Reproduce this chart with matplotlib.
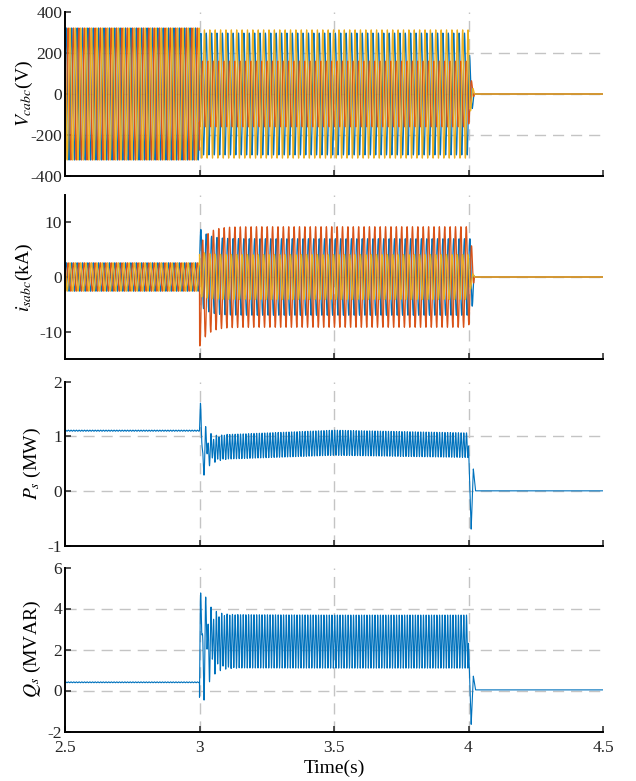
import numpy as np
import matplotlib
matplotlib.use('Agg')
from matplotlib import pyplot as plt

# --- config ---

T_START, T_END, DT = 2.5, 4.5, 1e-4
F_GRID = 50.0          # fundamental (Hz)
F_RIPPLE = 100.0       # double-frequency power ripple (Hz)
T_FAULT = 3.0
T_TRIP = 4.0

COLORS = ['#0072BD', '#D95319', '#EDB120']
PHASES = [0.0, -2 * np.pi / 3, 2 * np.pi / 3]

# converter voltage per phase (V)
V_PRE = [322, 322, 322]
V_POST = [297, 160, 313]
V_TRIP_T = [0.0, 0.006, 0.022]
V_TRIP_ENV = [[1.0, 0.5, 0.0], [1.0, 0.6, 0.0], [1.0, 0.3, 0.0]]

# stator current per phase (kA)
I_PRE = [2.6, 2.6, 2.6]
I_POST = [7.0, 9.2, 4.1]
I_DC_OFFSET = [2.0, -3.6, 0.6]
I_DC_TAU = 0.03
I_TRIP_T = [0.0, 0.012, 0.022]
I_TRIP_ENV = [[1.0, 1.0, 0.0], [1.0, 0.6, 0.0], [1.0, 0.3, 0.0]]

# active power (MW)
P_PRE = 1.1
P_PRE_RIPPLE = 0.01
P_ENV_T = [3.05, 3.1, 3.5, 4.0]
P_UPPER = [0.98, 1.03, 1.11, 1.06]
P_LOWER = [0.55, 0.58, 0.65, 0.61]
P_KICK = 0.8
P_KICK_TAU = 0.02
P_KICK_PHASE = 0.0
P_TRIP = [-0.7, 0.4, 0.0]

# reactive power (MVAR)
Q_PRE = 0.4
Q_PRE_RIPPLE = 0.02
Q_ENV_T = [3.05, 3.1, 3.5, 4.0]
Q_UPPER = [3.7, 3.7, 3.68, 3.68]
Q_LOWER = [1.1, 1.1, 1.09, 1.09]
Q_KICK = 3.5
Q_KICK_TAU = 0.025
Q_KICK_PHASE = -0.21
Q_TRIP = [-1.65, 0.7, 0.03]

X_TICKS = [2.5, 3, 3.5, 4, 4.5]
X_TICK_LABELS = ['2.5', '3', '3.5', '4', '4.5']
Y_LIMS = [(-400, 400), (-15, 15), (-1, 2), (-2, 6)]
Y_TICKS = [[-400, -200, 0, 200, 400], [-10, 0, 10], [-1, 0, 1, 2], [-2, 0, 2, 4, 6]]
Y_LABELS = [r'$V_{cabc}$(V)', r'$i_{sabc}$(kA)', r'$P_s$ (MW)', r'$Q_s$ (MVAR)']
Y_LABEL_X = [-0.056, -0.056, -0.041, -0.041]

# --- end config ---

plt.rcParams['font.family'] = 'Liberation Serif'
plt.rcParams['mathtext.fontset'] = 'stix'
plt.rcParams['axes.unicode_minus'] = False

t = np.arange(T_START, T_END, DT)
pre = t < T_FAULT
post = (t >= T_FAULT) & (t < T_TRIP)
trip = t >= T_TRIP
w = 2 * np.pi * F_GRID


def three_phase(pre_amp, post_amp, trip_t, trip_env, dc=None, dc_tau=1.0):
    waves = []
    for k in range(3):
        s = np.sin(w * t + PHASES[k])
        y = np.zeros_like(t)
        y[pre] = pre_amp[k] * s[pre]
        y[post] = post_amp[k] * s[post]
        if dc is not None:
            y[post] += dc[k] * np.exp(-(t[post] - T_FAULT) / dc_tau)
        env = np.interp(t[trip] - T_TRIP, trip_t, trip_env[k])
        y[trip] = post_amp[k] * env * s[trip]
        waves.append(y)
    return waves


def power(pre_val, pre_rip, env_t, upper, lower, kick, kick_tau, kick_phase, trip_pts):
    y = np.zeros_like(t)
    y[pre] = pre_val + pre_rip * np.sin(2 * np.pi * F_RIPPLE * t[pre])
    tp = t[post] - T_FAULT
    hi = np.interp(t[post], env_t, upper)
    lo = np.interp(t[post], env_t, lower)
    band = (hi + lo) / 2 + (hi - lo) / 2 * np.sin(2 * np.pi * F_RIPPLE * tp)
    # band settles in from the pre-fault level
    ramp = 1 - np.exp(-tp / 0.004)
    y[post] = pre_val + (band - pre_val) * ramp
    y[post] += kick * np.exp(-tp / kick_tau) * np.sin(w * tp + kick_phase)
    # short swing after the trip, then flat
    tt = t[trip] - T_TRIP
    knots_t = [0.0, 0.010, 0.018, 0.026]
    knots_y = [y[post][-1]] + trip_pts
    y[trip] = np.interp(tt, knots_t, knots_y)
    return y


v_abc = three_phase(V_PRE, V_POST, V_TRIP_T, V_TRIP_ENV)
i_abc = three_phase(I_PRE, I_POST, I_TRIP_T, I_TRIP_ENV, I_DC_OFFSET, I_DC_TAU)
p_s = power(P_PRE, P_PRE_RIPPLE, P_ENV_T, P_UPPER, P_LOWER, P_KICK, P_KICK_TAU, P_KICK_PHASE, P_TRIP)
q_s = power(Q_PRE, Q_PRE_RIPPLE, Q_ENV_T, Q_UPPER, Q_LOWER, Q_KICK, Q_KICK_TAU, Q_KICK_PHASE, Q_TRIP)

fig = plt.figure(figsize=(6.36, 7.81), dpi=100)
W, H = 636, 781
tops = [12, 195, 381.5, 567.5]
ax_h = 164
axes = []
for top in tops:
    ax = fig.add_axes([65 / W, 1 - (top + ax_h) / H, 538 / W, ax_h / H])
    axes.append(ax)

for k in range(3):
    axes[0].plot(t, v_abc[k], color=COLORS[k], lw=0.9)
    axes[1].plot(t, i_abc[k], color=COLORS[k], lw=0.9)
axes[2].plot(t, p_s, color=COLORS[0], lw=0.8)
axes[3].plot(t, q_s, color=COLORS[0], lw=0.8)

grid_style = dict(color='#c4c4c4', lw=1.0, ls=(0, (8, 5)), zorder=0)
for n, ax in enumerate(axes):
    ax.set_xlim(T_START, T_END)
    ax.set_ylim(*Y_LIMS[n])
    ax.set_xticks(X_TICKS)
    ax.set_yticks(Y_TICKS[n])
    for x in X_TICKS[1:-1]:
        ax.axvline(x, **grid_style)
    for yv in Y_TICKS[n][1:-1]:
        ax.axhline(yv, **grid_style)
    ax.spines['top'].set_visible(False)
    ax.spines['right'].set_visible(False)
    ax.spines['left'].set_linewidth(1.4)
    ax.spines['bottom'].set_linewidth(1.4)
    ax.tick_params(direction='in', length=4, width=1.1, colors='#262626', labelsize=12.5)
    ax.tick_params(axis='y', pad=2)
    ax.tick_params(axis='x', pad=6)
    ax.set_ylabel(Y_LABELS[n], fontsize=14)
    ax.yaxis.set_label_coords(Y_LABEL_X[n], 0.5)
    if n < 3:
        ax.set_xticklabels([])
    else:
        ax.set_xticklabels(X_TICK_LABELS)
        ax.set_xlabel('Time(s)', fontsize=14, labelpad=3)

plt.savefig('out.png', dpi=100)
plt.close(fig)
